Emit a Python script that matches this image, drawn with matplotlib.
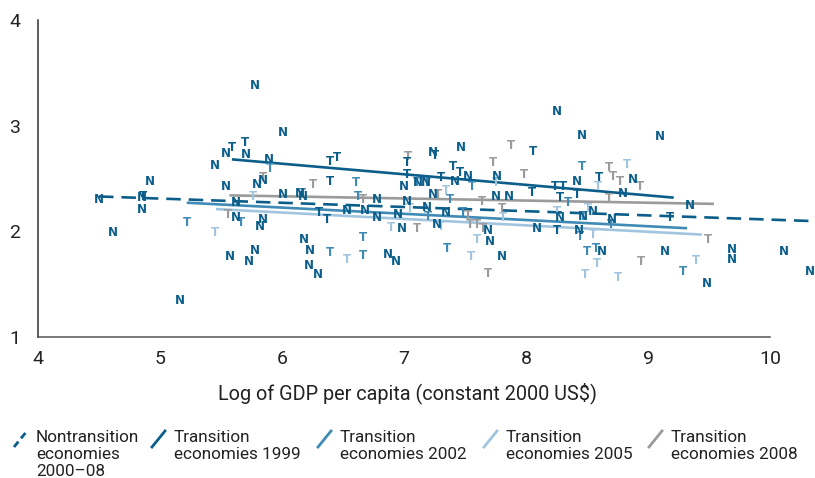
import matplotlib
matplotlib.use("Agg")
import matplotlib.pyplot as plt
from matplotlib.lines import Line2D

plt.rcParams['font.family'] = ['Roboto', 'DejaVu Sans']

# Colours for each series
c_dark = '#0b5e8a'
c_mid = '#3f8bb6'
c_light = '#a2c5df'
c_gray = '#9b9b9b'

# Nontransition economies (N markers)
n_x = [4.50, 4.61, 4.92, 4.85, 4.85, 5.16, 5.78, 6.01, 5.45, 5.54, 5.70, 5.89,
       5.54, 5.79, 5.84, 5.62, 6.01, 6.17, 5.62, 5.84, 5.82, 5.57, 5.73, 5.78,
       6.18, 6.23, 6.22, 6.29, 7.00, 7.11, 7.18, 7.24, 6.78, 7.02, 7.19, 6.53,
       6.68, 6.78, 6.95, 6.98, 7.27, 7.34, 6.87, 6.93, 7.24, 7.47, 7.42, 7.52,
       7.76, 7.75, 7.86, 7.69, 7.70, 7.80, 8.09, 8.28, 8.42, 8.46, 9.10, 8.25,
       8.88, 8.79, 9.34, 8.55, 8.47, 8.70, 8.43, 8.62, 9.14, 9.48, 9.69, 9.69,
       10.11, 10.33, 6.15]
n_y = [2.30, 1.99, 2.47, 2.32, 2.21, 1.35, 3.38, 2.94, 2.62, 2.74, 2.73, 2.68,
       2.42, 2.44, 2.48, 2.27, 2.35, 2.33, 2.13, 2.11, 2.05, 1.76, 1.71, 1.82,
       1.92, 1.82, 1.68, 1.59, 2.42, 2.46, 2.46, 2.35, 2.30, 2.28, 2.23, 2.20,
       2.20, 2.13, 2.16, 2.03, 2.06, 2.18, 1.78, 1.71, 2.75, 2.79, 2.47, 2.52,
       2.52, 2.33, 2.33, 2.01, 1.90, 1.76, 2.03, 2.13, 2.47, 2.91, 2.90, 3.13,
       2.49, 2.36, 2.24, 2.19, 2.14, 2.11, 2.01, 1.81, 1.81, 1.51, 1.83, 1.73,
       1.81, 1.62, 2.36]

# Transition economies (T markers) by year
t99_x = [4.86, 5.59, 5.70, 6.30, 6.37, 6.39, 6.45, 6.39, 7.02, 7.02, 7.25, 7.40,
         7.46, 7.30, 8.06, 8.05, 8.24, 8.30, 8.42, 8.60, 8.25, 9.18, 8.28]
t99_y = [2.33, 2.79, 2.84, 2.18, 2.11, 2.66, 2.70, 2.47, 2.65, 2.54, 2.72, 2.61,
         2.56, 2.51, 2.76, 2.37, 2.42, 2.42, 2.35, 2.51, 2.01, 2.13, 2.32]

t02_x = [5.22, 5.90, 5.66, 6.16, 6.61, 6.62, 7.11, 7.19, 6.66, 6.39, 6.66, 7.20,
         7.35, 7.56, 7.38, 8.34, 7.48, 8.46, 8.70, 8.44, 8.50, 8.57, 9.29, 8.47]
t02_y = [2.08, 2.59, 2.08, 2.36, 2.46, 2.33, 2.46, 2.46, 1.94, 1.80, 1.77, 2.14,
         1.84, 2.42, 2.30, 2.27, 2.18, 2.61, 2.06, 1.95, 1.81, 1.84, 1.62, 2.14]

t05_x = [5.45, 5.76, 7.34, 6.89, 7.05, 6.53, 7.75, 7.81, 8.25, 7.60, 7.55, 8.83,
         8.59, 8.51, 8.55, 8.58, 8.48, 8.75, 9.39, 7.30]
t05_y = [1.99, 2.33, 2.39, 2.04, 2.22, 1.73, 2.46, 2.13, 2.19, 1.92, 1.76, 2.63,
         2.42, 2.22, 1.97, 1.70, 1.59, 1.56, 1.72, 2.05]

t08_x = [5.84, 6.25, 5.56, 6.66, 7.03, 7.28, 7.11, 7.88, 7.73, 7.98, 7.64, 7.80,
         7.54, 7.60, 7.65, 7.69, 8.68, 8.71, 8.77, 8.93, 8.68, 8.94, 9.49, 7.52]
t08_y = [2.51, 2.44, 2.16, 2.30, 2.71, 2.35, 2.03, 2.81, 2.65, 2.54, 2.28, 2.22,
         2.06, 2.06, 2.03, 1.60, 2.60, 2.52, 2.47, 2.42, 2.31, 1.71, 1.92, 2.15]

# Fitted lines: (x start, x end), (y start, y end)
fit_n = ([4.50, 10.40], [2.33, 2.095])
fit_99 = ([5.60, 9.20], [2.68, 2.32])
fit_02 = ([5.23, 9.31], [2.27, 2.03])
fit_05 = ([5.47, 9.43], [2.21, 1.97])
fit_08 = ([5.58, 9.53], [2.34, 2.26])

legend_labels = ['Nontransition\neconomies\n2000\u201308',
                 'Transition\neconomies 1999',
                 'Transition\neconomies 2002',
                 'Transition\neconomies 2005',
                 'Transition\neconomies 2008']

fig = plt.figure(figsize=(8.15, 4.78), dpi=100)
ax = fig.add_axes([38 / 815, 1 - 337 / 478, 777 / 815, 317 / 478])

ax.set_xlim(4, 4 + 777 / 122)
ax.set_ylim(1, 4)

lw = 1.9
ax.plot(*fit_08, color=c_gray, lw=lw, zorder=2)
ax.plot(*fit_05, color=c_light, lw=lw, zorder=2)
ax.plot(*fit_02, color=c_mid, lw=lw, zorder=2)
ax.plot(*fit_99, color=c_dark, lw=lw, zorder=2)
ax.plot(*fit_n, color=c_dark, lw=lw, ls=(0, (5.5, 3)), zorder=2)

tkw = dict(ha='center', va='center', fontsize=8.5, fontweight='bold',
           family=['DejaVu Sans'], zorder=3)
for xs, ys, letter, col in [(t08_x, t08_y, 'T', c_gray),
                            (t05_x, t05_y, 'T', c_light),
                            (t02_x, t02_y, 'T', c_mid),
                            (t99_x, t99_y, 'T', c_dark),
                            (n_x, n_y, 'N', c_dark)]:
    for x, y in zip(xs, ys):
        ax.text(x, y, letter, color=col, clip_on=False, **tkw)

for s in ['top', 'right']:
    ax.spines[s].set_visible(False)
ax.spines['left'].set_color('#333333')
ax.spines['bottom'].set_color('#555555')
ax.spines['left'].set_linewidth(1.1)
ax.spines['bottom'].set_linewidth(1.1)
ax.spines['bottom'].set_bounds(4, 10)

ax.set_xticks([4, 5, 6, 7, 8, 9, 10])
ax.set_yticks([1, 2, 3, 4])
ax.tick_params(length=0, labelsize=14, colors='#222222')
ax.tick_params(axis='x', pad=9)
ax.tick_params(axis='y', pad=13)
ax.set_xlabel('Log of GDP per capita (constant 2000 US$)', fontsize=14.3,
              color='#222222')
ax.xaxis.set_label_coords((408 - 38) / 777, -(393 - 337) / 317)
ax.xaxis.label.set_va('center')

# Legend drawn by hand with slanted handles
leg_x = [36, 174, 340, 506, 671]
leg_c = [c_dark, c_dark, c_mid, c_light, c_gray]
for i, (lx, lab, col) in enumerate(zip(leg_x, legend_labels, leg_c)):
    x0, x1 = (lx - 22) / 815, (lx - 9) / 815
    y0, y1 = 1 - 447 / 478, 1 - 431 / 478
    if i == 0:
        fig.add_artist(Line2D([x0, x1], [y0, y1], color=col, lw=2,
                              ls=(0, (2.5, 1.5)), transform=fig.transFigure))
    else:
        fig.add_artist(Line2D([x0, x1], [y0, y1], color=col, lw=2,
                              transform=fig.transFigure))
    fig.text(lx / 815, 1 - 430 / 478, lab, ha='left', va='top', fontsize=12.3,
             color='#222222', linespacing=1.18)

fig.savefig('out.png', dpi=100)
